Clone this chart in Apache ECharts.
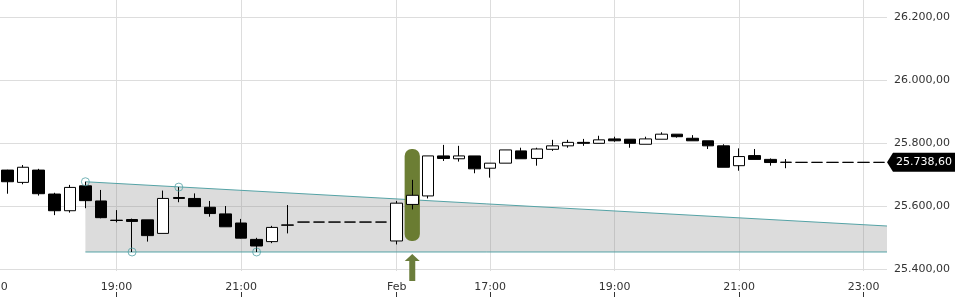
<!DOCTYPE html>
<html><head><meta charset="utf-8">
<script src="https://cdn.jsdelivr.net/npm/echarts@6/dist/echarts.min.js"></script>
<style>html,body{margin:0;padding:0;background:#fff}#c{width:960px;height:300px}</style>
</head><body><div id="c"></div>
<script>
// 15-minute slots; slot 0 = 17:00 of the first day, slot 26 = first slot of "Feb" (15:30)
const firstSlot = 1;
const opens  = [25714,25675,25714,25638,25585,25664,25616,25555,25557,25556,25513,25627,25624,25596,25575,25546,25494,25487,25540,
                25549,25549,25549,25549,25549,25549,
                25489,25605,25632,25759,25750,25759,25720,25736,25775,25751,25780,25791,25802,25799,25813,25812,25796,25812,25828,25815,25807,25791,25728,25760,25748,25739,
                25738.6,25738.6,25738.6,25738.6,25738.6,25738.6];
const closes = [25677,25723,25639,25585,25659,25617,25563,25554,25551,25506,25624,25624,25598,25576,25534,25498,25473,25532,25539,
                25549,25549,25549,25549,25549,25549,
                25609,25634,25759,25751,25759,25718,25736,25778,25750,25781,25791,25802,25799,25810,25807,25799,25813,25828,25820,25807,25791,25723,25757,25748,25738,25738.6,
                25738.6,25738.6,25738.6,25738.6,25738.6,25738.6];
const lows   = [25639,25669,25633,25571,25579,25593,25561,25548,25454,25487,25513,25612,25598,25566,25534,25497,25454,25482,25513,
                25549,25549,25549,25549,25549,25549,
                25478,25589,25624,25743,25741,25704,25690,25736,25750,25728,25775,25785,25791,25799,25804,25785,25796,25812,25817,25807,25781,25723,25712,25748,25728,25720,
                25738.6,25738.6,25738.6,25738.6,25738.6,25738.6];
const highs  = [25715,25730,25718,25642,25667,25677,25651,25587,25560,25556,25649,25660,25640,25616,25600,25559,25499,25537,25603,
                25549,25549,25549,25549,25549,25549,
                25616,25683,25759,25794,25791,25759,25736,25778,25785,25785,25810,25810,25813,25823,25820,25812,25820,25834,25828,25825,25807,25796,25783,25781,25751,25749,
                25738.6,25738.6,25738.6,25738.6,25738.6,25738.6];

const tickSlots  = [0, 8, 16, 26, 32, 40, 48, 56];
const tickLabels = ['17:00','19:00','21:00','Feb','17:00','19:00','21:00','23:00'];
const priceTicks = [25400, 25600, 25800, 26000, 26200];

// trend channel (upper sloping line, lower flat line) and its pivot points
const channelSlots  = [6, 57.5];
const channelUpper  = [25677, 25536.5];
const channelLower  = [25454, 25454];
const pivotSlots    = [6, 9, 12, 17];
const pivotValues   = [25677, 25454, 25660, 25454];

// highlighted signal candle
const signalSlot = 27;
const signalRange = [25489, 25781];

const lastPrice = 25738.6;
const xMin = 0, xMax = 57.5;
const yMin = 25393.65, yMax = 26254;

function deFmt(v) {
  const parts = v.toFixed(2).split('.');
  return parts[0].replace(/\B(?=(\d{3})+(?!\d))/g, '.') + ',' + parts[1];
}

const candleData = opens.map((o, k) => [firstSlot + k, o, closes[k], lows[k], highs[k]]);
const labelMap = {};
tickSlots.forEach((s, k) => { labelMap[s] = tickLabels[k]; });

const teal = '#55a3a6';
const font = 'DejaVu Sans';

const chart = echarts.init(document.getElementById('c'), null, {renderer: 'canvas'});
chart.setOption({
  animation: false,
  backgroundColor: '#fff',
  grid: {left: -8, right: 73, top: 0, bottom: 29, containLabel: false, outerBoundsMode: 'none'},
  xAxis: [{
    type: 'value', min: xMin, max: xMax,
    axisLine: {show: false},
    axisTick: {show: false, customValues: tickSlots},
    axisLabel: {customValues: tickSlots, formatter: v => labelMap[v] || '', color: '#333', fontFamily: font, fontSize: 11, margin: 11,
                hideOverlap: false, showMinLabel: true},
    splitLine: {show: true, lineStyle: {color: '#dddddd', width: 1}}
  }, {
    type: 'value', min: xMin, max: xMax, position: 'bottom', offset: 26,
    axisLine: {show: false},
    axisTick: {show: true, inside: true, length: 5, customValues: tickSlots, lineStyle: {color: '#333'}},
    axisLabel: {show: false, customValues: tickSlots},
    splitLine: {show: false}
  }],
  yAxis: {
    type: 'value', position: 'right', min: yMin, max: yMax, offset: 3,
    axisLine: {show: false},
    axisTick: {show: true, length: 4, customValues: priceTicks, lineStyle: {color: '#333'}},
    axisLabel: {customValues: priceTicks, formatter: v => deFmt(v), color: '#333', fontFamily: font, fontSize: 11, margin: 4},
    splitLine: {show: true, lineStyle: {color: '#dddddd', width: 1}}
  },
  series: [
    {
      type: 'custom', z: 1, silent: true,
      data: [[channelSlots[0], channelSlots[1], channelUpper[0], channelUpper[1], channelLower[0], channelLower[1]]],
      renderItem: (params, api) => {
        const p1 = api.coord([api.value(0), api.value(2)]);
        const p2 = api.coord([api.value(1), api.value(3)]);
        const p3 = api.coord([api.value(1), api.value(5)]);
        const p4 = api.coord([api.value(0), api.value(4)]);
        return {type: 'polygon', shape: {points: [p1, p2, p3, p4]}, style: {fill: 'rgba(140,140,140,0.3)'}};
      }
    },
    {
      type: 'line', z: 2, silent: true, symbol: 'none',
      data: channelSlots.map((s, k) => [s, channelUpper[k]]),
      lineStyle: {color: teal, width: 1}
    },
    {
      type: 'line', z: 2, silent: true, symbol: 'none',
      data: channelSlots.map((s, k) => [s, channelLower[k]]),
      lineStyle: {color: teal, width: 1}
    },
    {
      type: 'custom', z: 3, silent: true,
      data: [[signalSlot, signalRange[0], signalRange[1]]],
      renderItem: (params, api) => {
        const x = api.value(0);
        const a = api.coord([x - 0.49, api.value(2)]);
        const b = api.coord([x + 0.49, api.value(1)]);
        const cx = api.coord([x, api.value(1)])[0];
        const by = b[1];
        return {
          type: 'group',
          children: [
            {type: 'rect', shape: {x: a[0], y: a[1], width: b[0] - a[0], height: b[1] - a[1], r: 7},
             style: {fill: 'rgba(95,115,35,0.92)'}},
            {type: 'polygon', shape: {points: [[cx, by + 13], [cx + 7.5, by + 20], [cx + 3, by + 20], [cx + 3, by + 40],
                                               [cx - 3, by + 40], [cx - 3, by + 20], [cx - 7.5, by + 20]]},
             style: {fill: '#6b7d3c'}}
          ]
        };
      },
      clip: false
    },
    {
      type: 'candlestick', z: 4, silent: true,
      encode: {x: 0, y: [1, 2, 3, 4]},
      data: candleData,
      barWidth: 12,
      itemStyle: {color: '#ffffff', color0: '#000000', borderColor: '#000000', borderColor0: '#000000', borderColorDoji: '#000000', borderWidth: 1},
      markPoint: {
        silent: true,
        symbol: 'path://M0,9.5L6,0L68,0L68,19L6,19Z',
        symbolSize: [68, 19],
        symbolOffset: [34, 0],
        itemStyle: {color: '#000'},
        label: {show: true, position: 'inside', color: '#fff', fontFamily: font, fontSize: 11, offset: [3, 0],
                formatter: p => deFmt(p.value)},
        data: [{coord: [xMax, lastPrice], value: lastPrice}]
      }
    },
    {
      type: 'scatter', z: 5, silent: true,
      data: pivotSlots.map((s, k) => [s, pivotValues[k]]),
      symbol: 'circle', symbolSize: 8,
      itemStyle: {color: 'rgba(255,255,255,0)', borderColor: teal, borderWidth: 1}
    }
  ]
});
</script>
</body></html>
